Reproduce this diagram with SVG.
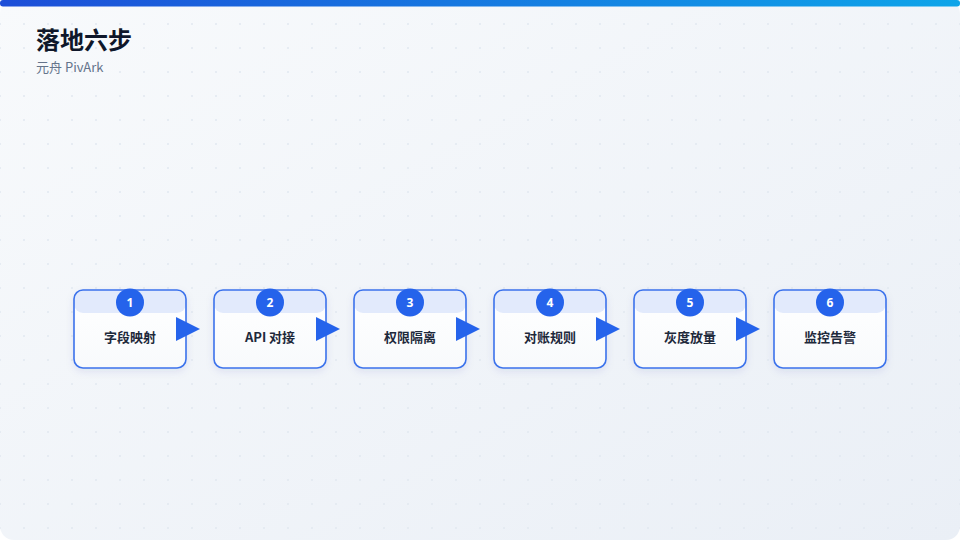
<svg xmlns="http://www.w3.org/2000/svg" width="960" height="540" viewBox="0 0 960 540">
<defs>
<linearGradient id="bg" x1="0" y1="0" x2="1" y2="1">
<stop offset="0" stop-color="#f8fafc"/>
<stop offset="1" stop-color="#eaeff6"/>
</linearGradient>
<linearGradient id="bar" x1="0" y1="0" x2="1" y2="0">
<stop offset="0" stop-color="#1d4ed8"/>
<stop offset="1" stop-color="#0ea5e9"/>
</linearGradient>
<linearGradient id="card" x1="0" y1="0" x2="0" y2="1">
<stop offset="0" stop-color="#ffffff"/>
<stop offset="1" stop-color="#f8fafc"/>
</linearGradient>
<pattern id="dots" x="0" y="0" width="24" height="24" patternUnits="userSpaceOnUse">
<circle cx="0" cy="0" r="1" fill="#e2e8f0"/>
<circle cx="24" cy="0" r="1" fill="#e2e8f0"/>
<circle cx="0" cy="24" r="1" fill="#e2e8f0"/>
<circle cx="24" cy="24" r="1" fill="#e2e8f0"/>
</pattern>
<filter id="sh" x="-20%" y="-20%" width="140%" height="150%">
<feDropShadow dx="0" dy="3" stdDeviation="4" flood-color="#1e3a8a" flood-opacity="0.10"/>
</filter>
<clipPath id="cardclip"><rect x="0" y="0" width="112" height="78" rx="9"/></clipPath>
<g id="cardshape">
<rect x="0" y="0" width="112" height="78" rx="9" fill="url(#card)" filter="url(#sh)"/>
<rect x="0" y="0" width="112" height="23" rx="9" fill="#e2eafc" clip-path="url(#cardclip)"/>
<rect x="0" y="0" width="112" height="78" rx="9" fill="none" stroke="#3b72ec" stroke-width="1.6"/>
</g>
</defs>
<style>
.title{font-family:"Noto Sans CJK SC","Noto Sans",sans-serif;font-weight:700;font-size:24px;fill:#0f172a}
.sub{font-family:"Noto Sans CJK SC","Noto Sans",sans-serif;font-size:13px;fill:#64748b}
.num{font-family:"Noto Sans","Noto Sans CJK SC",sans-serif;font-weight:700;font-size:12px;fill:#ffffff}
.lbl{font-family:"Noto Sans CJK SC","Noto Sans",sans-serif;font-weight:700;font-size:13px;fill:#1e293b}
.badge{fill:#2563eb}
.arrow{fill:#2563eb}
</style>
<rect x="0" y="0" width="960" height="540" fill="#ffffff"/>
<rect x="0" y="0" width="960" height="540" rx="14" fill="url(#bg)"/>
<rect x="0" y="0" width="960" height="540" rx="14" fill="url(#dots)"/>
<rect x="0" y="0" width="960" height="6.5" rx="3" fill="url(#bar)"/>
<text class="title" x="36" y="49">落地六步</text>
<text class="sub" x="36" y="72">元舟 PivArk</text>

<g id="n1" transform="translate(74,290)">
<use href="#cardshape"/>
<circle class="badge" cx="56" cy="12.5" r="14"/>
<text class="num" x="56" y="16.8" text-anchor="middle">1</text>
<text class="lbl" x="56" y="52" text-anchor="middle">字段映射</text>
</g>
<g id="n2" transform="translate(214,290)">
<use href="#cardshape"/>
<circle class="badge" cx="56" cy="12.5" r="14"/>
<text class="num" x="56" y="16.8" text-anchor="middle">2</text>
<text class="lbl" x="56" y="52" text-anchor="middle">API 对接</text>
</g>
<g id="n3" transform="translate(354,290)">
<use href="#cardshape"/>
<circle class="badge" cx="56" cy="12.5" r="14"/>
<text class="num" x="56" y="16.8" text-anchor="middle">3</text>
<text class="lbl" x="56" y="52" text-anchor="middle">权限隔离</text>
</g>
<g id="n4" transform="translate(494,290)">
<use href="#cardshape"/>
<circle class="badge" cx="56" cy="12.5" r="14"/>
<text class="num" x="56" y="16.8" text-anchor="middle">4</text>
<text class="lbl" x="56" y="52" text-anchor="middle">对账规则</text>
</g>
<g id="n5" transform="translate(634,290)">
<use href="#cardshape"/>
<circle class="badge" cx="56" cy="12.5" r="14"/>
<text class="num" x="56" y="16.8" text-anchor="middle">5</text>
<text class="lbl" x="56" y="52" text-anchor="middle">灰度放量</text>
</g>
<g id="n6" transform="translate(774,290)">
<use href="#cardshape"/>
<circle class="badge" cx="56" cy="12.5" r="14"/>
<text class="num" x="56" y="16.8" text-anchor="middle">6</text>
<text class="lbl" x="56" y="52" text-anchor="middle">监控告警</text>
</g>

<g id="connectors">
<polygon class="arrow" points="176,317 200,329 176,341"/>
<polygon class="arrow" points="316,317 340,329 316,341"/>
<polygon class="arrow" points="456,317 480,329 456,341"/>
<polygon class="arrow" points="596,317 620,329 596,341"/>
<polygon class="arrow" points="736,317 760,329 736,341"/>
</g>
</svg>
